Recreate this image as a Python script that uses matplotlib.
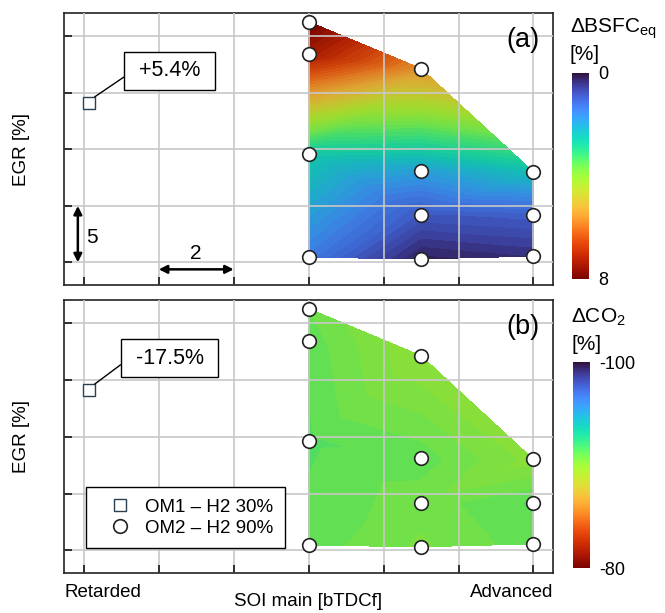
import numpy as np
import matplotlib
matplotlib.use("Agg")
import matplotlib.pyplot as plt
import matplotlib.tri as mtri
from matplotlib.colors import Normalize, ListedColormap
from matplotlib.cm import ScalarMappable

plt.rcParams['font.family'] = ['Liberation Sans', 'DejaVu Sans']
plt.rcParams['mathtext.fontset'] = 'custom'
plt.rcParams['mathtext.rm'] = 'Liberation Sans'
plt.rcParams['mathtext.it'] = 'Liberation Sans:italic'
plt.rcParams['axes.unicode_minus'] = False

# OM2 - H2 90% operating points (SOI main offset, EGR)
soi = [6, 6, 6, 6, 9, 9, 9, 9, 12, 12, 12]
egr = [21.3, 18.45, 9.6, 0.45, 17.15, 8.1, 4.2, 0.3, 8.0, 4.2, 0.55]

# measured deltas at each point
dbsfc = [8.0, 7.3, 2.6, 1.4, 5.6, 1.9, 0.9, 0.2, 2.4, 1.0, 0.4]
dco2 = [-91.0, -91.2, -91.4, -91.2, -90.0, -91.2, -90.8, -90.6, -90.2, -91.4, -91.2]

# OM1 - H2 30% reference point
om1_soi = 0.13
om1_egr = 14.1
om1_text = ["+5.4%", "-17.5%"]

tags = ["(a)", "(b)"]
cbar_titles = [r"ΔBSFC$_{\mathrm{eq}}$", r"ΔCO$_{\mathrm{2}}$"]
cbar_ranges = [(0, 8), (-100, -80)]

# the filled maps look a bit darker than the colour bars
base = plt.get_cmap('turbo')(np.linspace(0, 1, 256))
dark = base.copy()
dark[:, :3] *= 0.88
fill_cmap = ListedColormap(dark)

fig = plt.figure(figsize=(6.65, 6.13), dpi=100)
ax_a = fig.add_axes([0.0962, 0.535, 0.7353, 0.4437])
ax_b = fig.add_axes([0.0962, 0.0653, 0.7353, 0.4453])
cax_a = fig.add_axes([0.860, 0.545, 0.025, 0.336])
cax_b = fig.add_axes([0.862, 0.0734, 0.025, 0.336])

tri = mtri.Triangulation(soi, egr)


def draw_panel(ax, cax, values, vrange, tag, note, cb_title, title_y):
    vmin, vmax = vrange
    levels = np.linspace(vmin, vmax, 61)
    ax.tricontourf(tri, values, levels=levels, cmap=fill_cmap,
                   vmin=vmin, vmax=vmax, zorder=1)

    ax.set_xlim(-0.53, 12.52)
    ax.set_ylim(-2.01, 22.07)
    ax.set_xticks(np.arange(0, 13, 2))
    ax.set_yticks(np.arange(0, 21, 5))
    ax.set_xticklabels([])
    ax.set_yticklabels([])
    ax.tick_params(direction='in', length=6, width=1.3, color='#222222',
                   top=False, right=False)
    ax.grid(True, color='#c8c8c8', lw=1.2)
    ax.set_axisbelow(False)
    for sp in ax.spines.values():
        sp.set_linewidth(1.2)
        sp.set_color('#222222')

    sq, = ax.plot([om1_soi], [om1_egr], 's', ms=8.5, mfc='white',
                  mec='#2a3f4f', mew=1.0, zorder=4, label="OM1 – H2 30%")
    ci, = ax.plot(soi, egr, 'o', ms=9.8, mfc='white', mec='#222222',
                  mew=1.2, zorder=4, clip_on=False, label="OM2 – H2 90%")

    ax.annotate(" " + note + " ", xy=(om1_soi + 0.16, om1_egr + 0.55),
                xytext=(2.29, 16.95), ha='center', va='center', fontsize=15.5,
                bbox=dict(boxstyle='square,pad=0.4', fc='white', ec='black', lw=1.0),
                arrowprops=dict(arrowstyle='-', color='black', lw=1.0,
                                relpos=(0, 0.5), shrinkA=0, shrinkB=0),
                zorder=5)
    ax.text(0.939, 0.90, tag, transform=ax.transAxes, ha='center',
            va='center', fontsize=19.5)

    sm = ScalarMappable(norm=Normalize(vmin, vmax), cmap='turbo')
    cb = fig.colorbar(sm, cax=cax, ticks=[vmin, vmax])
    cb.outline.set_visible(False)
    cax.invert_yaxis()
    cax.tick_params(length=0, pad=7, labelsize=13)

    x0 = cax.get_position().x0
    fig.text(x0 - 0.003, title_y, cb_title, fontsize=15, va='baseline', ha='left')
    fig.text(x0 - 0.003, title_y - 0.044, "[%]", fontsize=15, va='baseline', ha='left')
    return sq, ci


draw_panel(ax_a, cax_a, dbsfc, cbar_ranges[0], tags[0], om1_text[0],
           cbar_titles[0], 0.946)
sq, ci = draw_panel(ax_b, cax_b, dco2, cbar_ranges[1], tags[1], om1_text[1],
                    cbar_titles[1], 0.473)

# scale arrows in panel (a)
arrow = dict(arrowstyle='<|-|>', color='black', lw=1.8, mutation_scale=12,
             shrinkA=0, shrinkB=0)
ax_a.annotate('', xy=(-0.16, 5), xytext=(-0.16, 0), arrowprops=arrow, zorder=5)
ax_a.text(0.23, 2.2, '5', fontsize=15, ha='center', va='center')
ax_a.annotate('', xy=(4, -0.62), xytext=(2, -0.62), arrowprops=arrow, zorder=5)
ax_a.text(3.0, 0.8, '2', fontsize=15, ha='center', va='center')

leg = ax_b.legend([sq, ci], [sq.get_label(), ci.get_label()], loc='lower left',
                  bbox_to_anchor=(0.045, 0.092), fontsize=13.5, frameon=True,
                  fancybox=False, edgecolor='black', framealpha=1,
                  borderpad=0.6, handlelength=2.4, handletextpad=0.15,
                  labelspacing=0.2, borderaxespad=0)
leg.get_frame().set_linewidth(1.0)
leg.set_zorder(6)

for ax in (ax_a, ax_b):
    pos = ax.get_position()
    fig.text(22 / 665, (pos.y0 + pos.y1) / 2, 'EGR [%]', rotation=90,
             ha='center', va='center', fontsize=13.5)

fig.text(64 / 665, 0.026, 'Retarded', ha='left', va='baseline', fontsize=13.5)
fig.text(553 / 665, 0.026, 'Advanced', ha='right', va='baseline', fontsize=13.5)
fig.text(308 / 665, 0.011, 'SOI main [bTDCf]', ha='center', va='baseline',
         fontsize=13.5)

fig.savefig('out.png', dpi=100)
